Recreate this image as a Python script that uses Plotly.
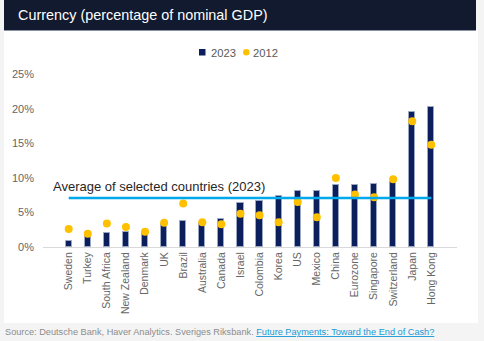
import plotly.graph_objects as go

countries = ["Sweden", "Turkey", "South Africa", "New Zealand", "Denmark", "UK", "Brazil",
             "Australia", "Canada", "Israel", "Colombia", "Korea", "US", "Mexico", "China",
             "Eurozone", "Singapore", "Switzerland", "Japan", "Hong Kong"]
values_2023 = [0.9, 1.6, 2.0, 2.1, 2.0, 3.4, 3.7, 3.5, 4.0, 6.3, 6.6, 7.4, 8.1, 8.1, 9.0,
               9.0, 9.1, 9.4, 19.5, 20.2]
values_2012 = [2.6, 1.9, 3.4, 2.9, 2.2, 3.5, 6.3, 3.6, 3.3, 4.8, 4.6, 3.6, 6.5, 4.3, 10.0,
               7.6, 7.2, 9.8, 18.2, 14.8]
average_2023 = 7.1
y_ticks = [0, 5, 10, 15, 20, 25]
y_tick_labels = ["0%", "5%", "10%", "15%", "20%", "25%"]

W, H = 484, 341
L, R, T, B = 43, 457, 60, 247
FONT = "Liberation Sans, Arial, sans-serif"
BAR_COLOR = "#0b1f5c"
DOT_COLOR = "#ffc000"


def px(x):
    return (x - L) / (R - L)


def py(y):
    return (B - y) / (B - T)


fig = go.Figure()
fig.add_trace(go.Bar(
    x=countries, y=values_2023, name="2023", width=0.32,
    marker=dict(color=BAR_COLOR, line=dict(color="#9aa6c2", width=1)),
))
fig.add_trace(go.Scatter(
    x=countries, y=values_2012, name="2012", mode="markers",
    marker=dict(color=DOT_COLOR, size=8, line=dict(width=0)),
))

shapes = [
    # white panel
    dict(type="rect", xref="paper", yref="paper", x0=px(4), x1=px(478), y0=py(323), y1=py(30),
         fillcolor="white", line=dict(width=0), layer="below"),
    # header band
    dict(type="rect", xref="paper", yref="paper", x0=px(4), x1=px(476), y0=py(30), y1=py(0),
         fillcolor="#111a2e", line=dict(width=0), layer="below"),
    dict(type="line", xref="paper", yref="paper", x0=px(4), x1=px(476), y0=py(30.5), y1=py(30.5),
         line=dict(color="#8a93a6", width=1)),
    # legend symbols
    dict(type="rect", xref="paper", yref="paper", x0=px(199), x1=px(205.5), y0=py(55.5), y1=py(49),
         fillcolor=BAR_COLOR, line=dict(width=0)),
    dict(type="circle", xref="paper", yref="paper", x0=px(243), x1=px(249.5), y0=py(55.5), y1=py(49),
         fillcolor=DOT_COLOR, line=dict(width=0)),
    # average line
    dict(type="line", xref="x", yref="y", x0=0, x1=len(countries) - 1,
         y0=average_2023, y1=average_2023, line=dict(color="#00a8ec", width=2.5), layer="above"),
]

annotations = [
    dict(text="Currency (percentage of nominal GDP)", xref="paper", yref="paper",
         x=px(16), y=py(15), xanchor="left", yanchor="middle", showarrow=False,
         font=dict(family=FONT, size=14.4, color="white")),
    dict(text="2023", xref="paper", yref="paper", x=px(208.5), y=py(52.5), xanchor="left",
         yanchor="middle", showarrow=False, font=dict(family=FONT, size=11.2, color="#595959")),
    dict(text="2012", xref="paper", yref="paper", x=px(251), y=py(52.5), xanchor="left",
         yanchor="middle", showarrow=False, font=dict(family=FONT, size=11.2, color="#595959")),
    dict(text="Average of selected countries (2023)", xref="paper", yref="paper",
         x=px(51), y=py(196), xanchor="left", yanchor="bottom", showarrow=False,
         font=dict(family=FONT, size=13, color="#262626")),
    dict(text="Source: Deutsche Bank, Haver Analytics. Sveriges Riksbank. "
              "<a href='#' style='color:#1a9ad6'><span style='text-decoration:underline'>"
              "Future Payments: Toward the End of Cash?</span></a>",
         xref="paper", yref="paper", x=px(3), y=py(332), xanchor="left", yanchor="middle",
         showarrow=False, font=dict(family=FONT, size=9.2, color="#8c8c8c")),
]

fig.update_layout(
    width=W, height=H,
    margin=dict(l=L, r=W - R, t=T, b=H - B, pad=0),
    paper_bgcolor="#f4f4f4", plot_bgcolor="rgba(0,0,0,0)",
    shapes=shapes, annotations=annotations,
    showlegend=False,
    bargap=0,
    xaxis=dict(tickangle=-90, tickfont=dict(family=FONT, size=10.5, color="#666666"),
               showgrid=False, showline=True, linecolor="#d9d9d9", linewidth=1,
               ticks="", fixedrange=True),
    yaxis=dict(range=[0, 27.07], tickvals=y_ticks, ticktext=y_tick_labels,
               tickfont=dict(family=FONT, size=11, color="#666666"),
               showgrid=False, zeroline=False, showline=False, ticks="", ticklabelstandoff=8),
    font=dict(family=FONT),
)

fig.write_html("out.html")
